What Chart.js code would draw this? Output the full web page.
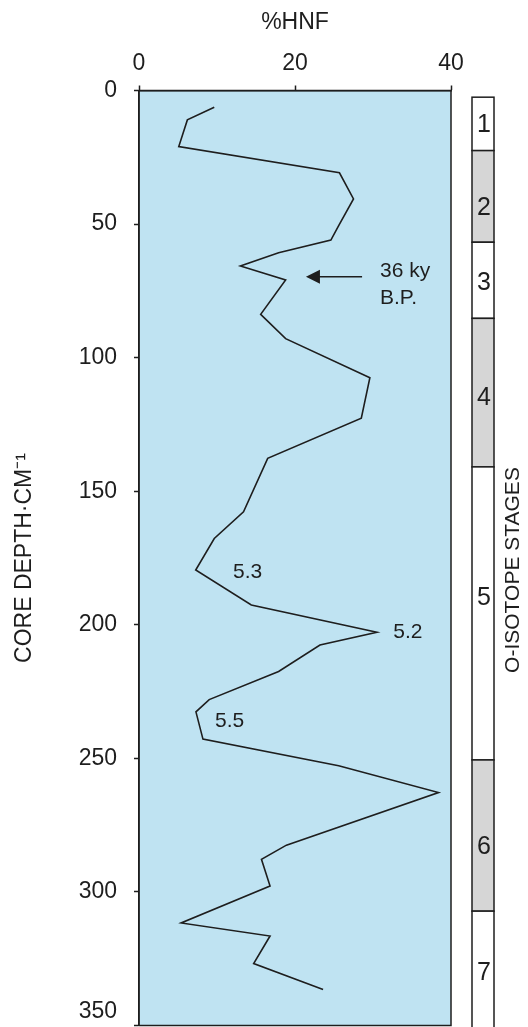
<!DOCTYPE html>
<html>
<head>
<meta charset="utf-8">
<script src="https://cdn.jsdelivr.net/npm/chart.js@4.4.1/dist/chart.umd.min.js"></script>
<style>
  html, body { margin: 0; padding: 0; background: #fff; }
  #wrap { width: 528px; height: 1027px; }
</style>
</head>
<body>
<div id="wrap"><canvas id="hnfChart" width="528" height="1027"></canvas></div>
<script>
// %HNF profile down the core (depth in cm)
const depthCm = [6.3, 11.0, 21.0, 30.8, 40.6, 50.6, 56.0, 60.7, 65.7, 70.9, 83.8, 92.9,
  107.5, 122.7, 137.7, 157.7, 167.7, 179.5, 192.6, 202.8, 207.6, 217.5, 228.0, 232.6,
  242.8, 252.8, 262.8, 282.5, 287.8, 297.8, 311.6, 316.5, 326.8, 336.5];
const hnfPercent = [9.65, 6.2, 5.1, 25.7, 27.5, 25.6, 24.6, 17.9, 13.0, 18.8, 15.6, 18.8,
  29.6, 28.5, 16.5, 13.4, 9.65, 7.27, 14.4, 30.5, 23.2, 17.9, 9.0, 7.3,
  8.2, 25.6, 38.4, 18.9, 15.7, 16.8, 5.4, 16.8, 14.7, 23.6];

const hnfTicks = [0, 20, 40];
const depthTicks = [0, 50, 100, 150, 200, 250, 300, 350];

// oxygen isotope stages alongside the core
const stageNames = ['1', '2', '3', '4', '5', '6', '7'];
const stageTop = [2.5, 22.5, 56.8, 85.3, 140.9, 250.6, 307.2];
const stageBase = [22.5, 56.8, 85.3, 140.9, 250.6, 307.2, 352];
const stageGlacial = [false, true, false, true, false, true, false];
const stageLabelDepth = [12.6, 43.5, 71.9, 114.9, 189.8, 282.9, 329.9];

// text notes inside the plot
const noteText = ['5.3', '5.2', '5.5', '36 ky', 'B.P.'];
const noteHnf = [12.05, 32.6, 9.74, 30.9, 30.9];
const noteDepth = [180.3, 202.6, 236.1, 67.8, 77.7];
const arrowFrom = [28.6, 69.7];
const arrowTo = [21.4, 69.7];

const FONT = "'Liberation Sans', Arial, Helvetica, sans-serif";
const INK = '#1e1e1e';

const plotFrame = {
    id: 'plotFrame',
    beforeDraw(chart) {
        const { ctx, chartArea: a } = chart;
        ctx.save();
        ctx.fillStyle = '#bfe3f2';
        ctx.fillRect(a.left, a.top, a.right - a.left, a.bottom - a.top);
        ctx.restore();
    },
    afterDatasetsDraw(chart) {
        const { ctx, chartArea: a, scales } = chart;
        const x = scales.x, y = scales.y;
        ctx.save();
        ctx.strokeStyle = INK;
        ctx.lineWidth = 1.5;
        ctx.strokeRect(a.left, a.top, a.right - a.left, a.bottom - a.top);

        // notes
        ctx.fillStyle = INK;
        ctx.font = '21px ' + FONT;
        ctx.textAlign = 'left';
        ctx.textBaseline = 'middle';
        noteText.forEach((t, i) => {
            ctx.fillText(t, x.getPixelForValue(noteHnf[i]), y.getPixelForValue(noteDepth[i]));
        });

        // arrow pointing at the dated level
        const x0 = x.getPixelForValue(arrowFrom[0]), y0 = y.getPixelForValue(arrowFrom[1]);
        const x1 = x.getPixelForValue(arrowTo[0]), y1 = y.getPixelForValue(arrowTo[1]);
        ctx.lineWidth = 1.5;
        ctx.beginPath();
        ctx.moveTo(x0, y0);
        ctx.lineTo(x1 + 12, y1);
        ctx.stroke();
        ctx.beginPath();
        ctx.moveTo(x1, y1);
        ctx.lineTo(x1 + 14, y1 - 7);
        ctx.lineTo(x1 + 14, y1 + 7);
        ctx.closePath();
        ctx.fill();

        // stage column
        const bl = 472, br = 494;
        ctx.textAlign = 'center';
        stageNames.forEach((s, i) => {
            const t = y.getPixelForValue(stageTop[i]);
            const b = y.getPixelForValue(stageBase[i]);
            ctx.fillStyle = stageGlacial[i] ? '#d6d6d6' : '#ffffff';
            ctx.fillRect(bl, t, br - bl, b - t);
            ctx.strokeStyle = INK;
            ctx.lineWidth = 1.5;
            ctx.strokeRect(bl, t, br - bl, b - t);
            ctx.fillStyle = INK;
            ctx.font = '25px ' + FONT;
            ctx.fillText(s, 484, y.getPixelForValue(stageLabelDepth[i]) + 1);
        });

        ctx.translate(513, 570);
        ctx.rotate(-Math.PI / 2);
        ctx.font = '21px ' + FONT;
        ctx.fillText('O-ISOTOPE STAGES', 0, 0);
        ctx.restore();
    }
};

function initializeChart() {
    const points = depthCm.map((d, i) => ({ x: hnfPercent[i], y: d }));
    new Chart(document.getElementById('hnfChart').getContext('2d'), {
        type: 'scatter',
        data: {
            datasets: [{
                label: '%HNF',
                data: points,
                showLine: true,
                borderColor: INK,
                borderWidth: 1.6,
                pointRadius: 0,
                tension: 0
            }]
        },
        options: {
            responsive: false,
            animation: false,
            devicePixelRatio: 1,
            layout: { padding: { left: 0, top: 0, right: 77, bottom: 1.5 } },
            plugins: { legend: { display: false }, tooltip: { enabled: false } },
            scales: {
                x: {
                    type: 'linear',
                    position: 'top',
                    min: 0, max: 40,
                    afterBuildTicks: s => { s.ticks = hnfTicks.map(v => ({ value: v })); },
                    ticks: { color: INK, font: { family: FONT, size: 23 }, padding: 8 },
                    grid: { drawOnChartArea: false, tickLength: 5, color: INK, tickWidth: 1.5 },
                    border: { color: INK, width: 1.5 },
                    title: { display: true, text: '%HNF', color: INK, font: { family: FONT, size: 23 }, padding: { top: 9, bottom: 0 } },
                    afterFit: s => { s.height = 90.5; }
                },
                y: {
                    type: 'linear',
                    reverse: true,
                    min: 0, max: 350,
                    afterBuildTicks: s => { s.ticks = depthTicks.map(v => ({ value: v })); },
                    ticks: {
                        color: INK,
                        font: { family: FONT, size: 23 },
                        padding: 17,
                        // lift the bottom label so it stays on the canvas
                        callback: v => v === 350 ? ['350', ''] : String(v)
                    },
                    grid: { drawOnChartArea: false, tickLength: 5, color: INK, tickWidth: 1.5 },
                    border: { color: INK, width: 1.5 },
                    title: { display: true, text: 'CORE DEPTH·CM⁻¹', color: INK, font: { family: FONT, size: 23 }, padding: { top: 11, bottom: 0 } },
                    afterFit: s => { s.width = 139; s.paddingTop = 0; s.paddingBottom = 0; }
                }
            }
        },
        plugins: [plotFrame]
    });
}

window.addEventListener('DOMContentLoaded', initializeChart);
</script>
</body>
</html>
